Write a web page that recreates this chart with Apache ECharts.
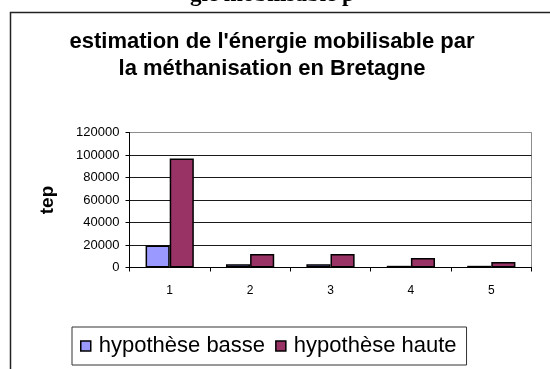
<!DOCTYPE html>
<html>
<head>
<meta charset="utf-8">
<script src="https://cdn.jsdelivr.net/npm/echarts@6/dist/echarts.min.js"></script>
<style>
  html, body { margin: 0; padding: 0; background: #fff; }
  #chart { width: 550px; height: 369px; }
</style>
</head>
<body>
<div id="chart"></div>
<script>
// Scenario labels (x axis)
const categories = ['1', '2', '3', '4', '5'];
// Mobilisable energy, in tep
const basse = [19500, 3000, 3000, 1500, 1500];
const haute = [97000, 12000, 12000, 8500, 4800];
// Value axis ticks
const yTicks = [0, 20000, 40000, 60000, 80000, 100000, 120000];

const FONT = '"Liberation Sans", Arial, sans-serif';

const chart = echarts.init(document.getElementById('chart'));
chart.setOption({
  animation: false,
  backgroundColor: '#fff',
  graphic: [
    // heading of the page, cut by the top edge
    {
      type: 'text', left: 190, top: -16, silent: true,
      style: { text: 'gie mobilisable p', font: 'bold 23px "Liberation Serif", serif', fill: '#000' }
    },
    // chart area frame
    {
      type: 'rect', silent: true,
      shape: { x: 10.5, y: 12.5, width: 620, height: 420 },
      style: { fill: 'none', stroke: '#222', lineWidth: 1.5 }
    },
    {
      type: 'text', silent: true, x: 272, y: 42,
      style: {
        text: "estimation de l'énergie mobilisable par",
        font: 'bold 22px ' + FONT, fill: '#000', align: 'center', verticalAlign: 'middle'
      }
    },
    {
      type: 'text', silent: true, x: 272, y: 69,
      style: {
        text: 'la méthanisation en Bretagne',
        font: 'bold 22px ' + FONT, fill: '#000', align: 'center', verticalAlign: 'middle'
      }
    }
  ],
  legend: {
    left: 72, top: 327,
    orient: 'horizontal',
    itemWidth: 10, itemHeight: 10, itemGap: 10,
    padding: [8, 10, 8, 8],
    borderColor: '#333', borderWidth: 1,
    icon: 'rect',
    itemStyle: { borderColor: '#000', borderWidth: 1.5 },
    textStyle: { fontFamily: FONT, fontSize: 22, color: '#000', padding: [0, 0, 0, 3] },
    data: ['hypothèse basse', 'hypothèse haute']
  },
  grid: {
    left: 129.5, top: 132.5, width: 402, height: 135,
    show: true, borderColor: '#8c8c8c', borderWidth: 1
  },
  xAxis: {
    type: 'category',
    data: categories,
    axisLine: { lineStyle: { color: '#000', width: 1 } },
    axisTick: { show: true, length: 4, lineStyle: { color: '#000' } },
    axisLabel: { fontFamily: FONT, fontSize: 12, color: '#000', margin: 17 }
  },
  yAxis: {
    type: 'value',
    min: yTicks[0], max: yTicks[yTicks.length - 1], interval: yTicks[1] - yTicks[0],
    name: 'tep',
    nameLocation: 'middle', nameRotate: 90, nameGap: 72,
    nameTextStyle: { fontFamily: FONT, fontSize: 19, fontWeight: 'bold', color: '#000' },
    axisLine: { show: true, lineStyle: { color: '#000', width: 1 } },
    axisTick: { show: true, length: 4, lineStyle: { color: '#000' } },
    axisLabel: {
      fontFamily: FONT, fontSize: 13, color: '#000', margin: 10,
      formatter: (v) => String(v)
    },
    splitLine: {
      show: true,
      lineStyle: { color: ['#000', '#1a1a1a', '#1a1a1a', '#1a1a1a', '#1a1a1a', '#1a1a1a', '#8c8c8c'], width: 1 }
    }
  },
  series: [
    {
      name: 'hypothèse basse', type: 'bar', data: basse,
      barGap: '0%', barCategoryGap: '40%',
      itemStyle: { color: '#9999ff', borderColor: '#000', borderWidth: 1.5 }
    },
    {
      name: 'hypothèse haute', type: 'bar', data: haute,
      barGap: '0%', barCategoryGap: '40%',
      itemStyle: { color: '#993366', borderColor: '#000', borderWidth: 1.5 }
    }
  ]
});
</script>
</body>
</html>
